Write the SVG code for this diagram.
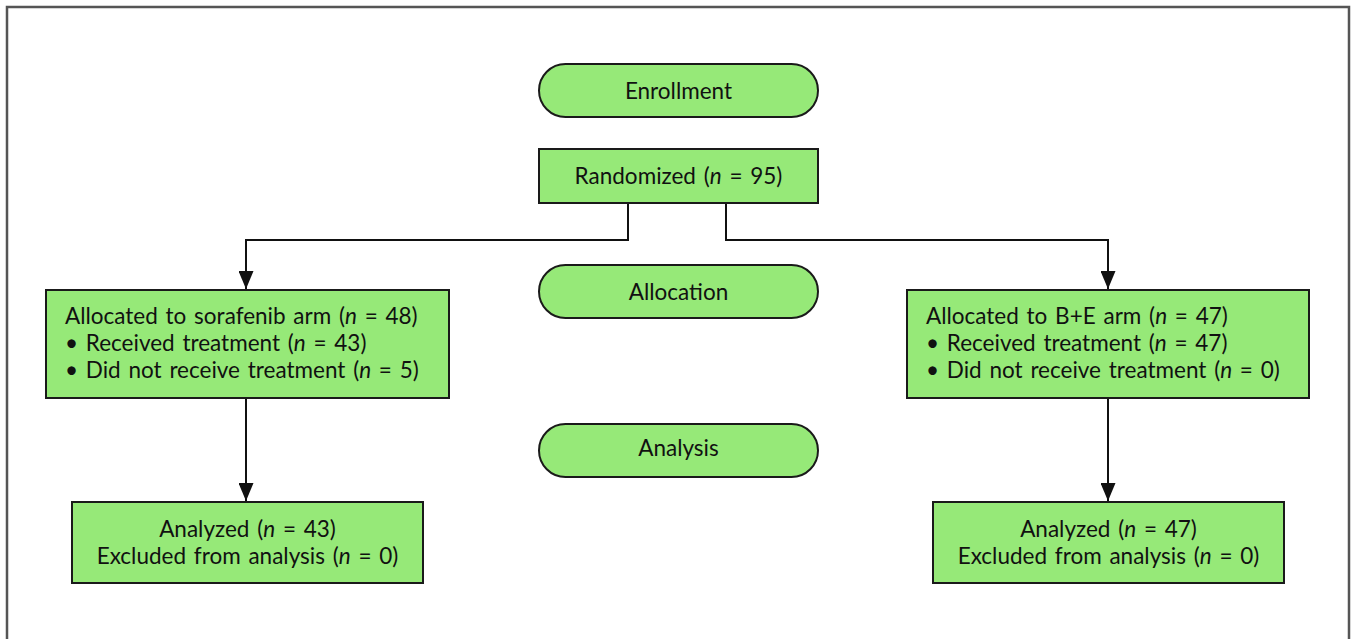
<svg xmlns="http://www.w3.org/2000/svg" width="1357" height="639" viewBox="0 0 1357 639">
<defs>
<marker id="ah" viewBox="0 0 18 15" refX="18" refY="7.5" markerWidth="18" markerHeight="15" markerUnits="userSpaceOnUse" orient="auto">
<path d="M0,0 L18,7.5 L0,15 z" fill="#111"/>
</marker>
<style>
.box{fill:#96e978;stroke:#1a1a1a;stroke-width:2}
.t{font-family:Lato,"Open Sans","Liberation Sans",sans-serif;font-size:22.5px;fill:#111;word-spacing:2px}
.c{text-anchor:middle}
.con{fill:none;stroke:#111;stroke-width:2}
</style>
</defs>
<rect width="1357" height="639" fill="#fff"/>
<path d="M7,645 V7 H1349 V645" fill="none" stroke="#555" stroke-width="2.5"/>
<g id="connectors">
<path class="con" d="M628,204 V240 H246 V289" marker-end="url(#ah)"/>
<path class="con" d="M726,204 V240 H1108 V289" marker-end="url(#ah)"/>
<path class="con" d="M246,398 V501" marker-end="url(#ah)"/>
<path class="con" d="M1108,398 V501" marker-end="url(#ah)"/>
</g>
<g id="enrollment">
<rect class="box" x="539" y="64" width="279" height="53" rx="26.5"/>
<text class="t c" x="678.5" y="99">Enrollment</text>
</g>
<g id="randomized">
<rect class="box" x="539" y="149" width="279" height="54"/>
<text class="t c" x="678.5" y="184">Randomized (<tspan font-style="italic">n</tspan> = 95)</text>
</g>
<g id="allocation">
<rect class="box" x="539" y="265" width="279" height="53" rx="26.5"/>
<text class="t c" x="678.5" y="300">Allocation</text>
</g>
<g id="analysis">
<rect class="box" x="539" y="424" width="279" height="53" rx="26.5"/>
<text class="t c" x="678.5" y="456">Analysis</text>
</g>
<g id="alloc-sorafenib">
<rect class="box" x="46" y="290" width="403" height="108"/>
<text class="t" x="65" y="324">Allocated to sorafenib arm (<tspan font-style="italic">n</tspan> = 48)</text>
<text class="t" x="65" y="351">• Received treatment (<tspan font-style="italic">n</tspan> = 43)</text>
<text class="t" x="65" y="378">• Did not receive treatment (<tspan font-style="italic">n</tspan> = 5)</text>
</g>
<g id="alloc-be">
<rect class="box" x="907" y="290" width="402" height="108"/>
<text class="t" x="926" y="324">Allocated to B+E arm (<tspan font-style="italic">n</tspan> = 47)</text>
<text class="t" x="926" y="351">• Received treatment (<tspan font-style="italic">n</tspan> = 47)</text>
<text class="t" x="926" y="378">• Did not receive treatment (<tspan font-style="italic">n</tspan> = 0)</text>
</g>
<g id="analyzed-sorafenib">
<rect class="box" x="72" y="502" width="351" height="81"/>
<text class="t c" x="247.5" y="537">Analyzed (<tspan font-style="italic">n</tspan> = 43)</text>
<text class="t c" x="247.5" y="564">Excluded from analysis (<tspan font-style="italic">n</tspan> = 0)</text>
</g>
<g id="analyzed-be">
<rect class="box" x="933" y="502" width="351" height="81"/>
<text class="t c" x="1108.5" y="537">Analyzed (<tspan font-style="italic">n</tspan> = 47)</text>
<text class="t c" x="1108.5" y="564">Excluded from analysis (<tspan font-style="italic">n</tspan> = 0)</text>
</g>
</svg>
